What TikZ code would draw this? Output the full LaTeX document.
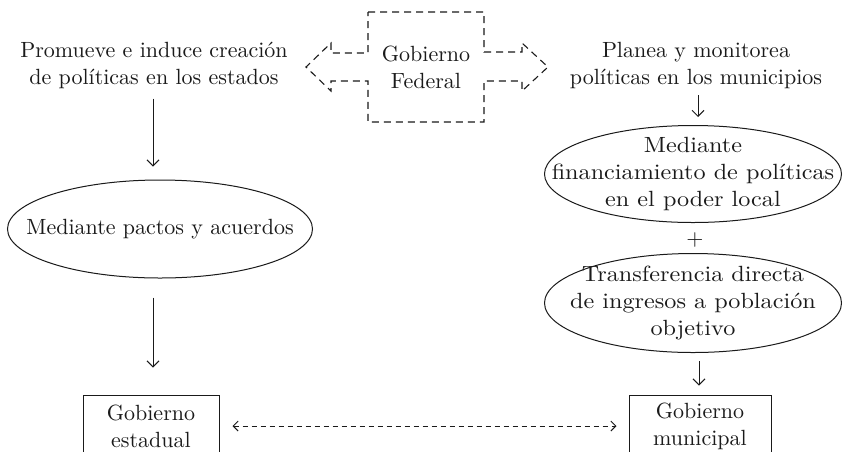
\documentclass[tikz,border=0pt]{standalone}
\usepackage{fontspec}
\newfontfamily\mainf{lmroman10-regular.otf}
\newfontfamily\ovalf[FakeStretch=1.1]{lmroman10-regular.otf}
\usetikzlibrary{shapes.geometric,arrows.meta}
\definecolor{ink}{HTML}{1A1A1A}
\begin{document}
\begin{tikzpicture}[x=1pt,y=-1pt,
  txt/.style={align=center, font=\mainf\fontsize{22}{27}\selectfont, text=ink, inner sep=0pt},
  otxt/.style={align=center, font=\ovalf\fontsize{22}{27}\selectfont, text=ink, inner sep=0pt},
  oval/.style={ellipse, draw=ink, line width=1pt, inner sep=0pt},
  govbox/.style={txt, draw=ink, line width=1pt, minimum height=62pt},
  arr/.style={draw=ink, line width=1pt, -{Straight Barb[length=6pt,width=12pt]}},
  dasharr/.style={draw=ink, line width=0.9pt, dash pattern=on 5pt off 4pt,
    {Straight Barb[length=5pt,width=10pt]}-{Straight Barb[length=5pt,width=10pt]}},
  fedline/.style={draw=ink, line width=1.1pt, dash pattern=on 7pt off 5pt}
]
\useasboundingbox (0,0) rectangle (843,451);
\fill[white] (0,0) rectangle (843,451);

% Federal cross shape
\draw[fedline] (368,12) -- (484,12) -- (484,52) -- (522,52) -- (522,43) -- (548,67)
  -- (522,91) -- (522,81) -- (484,81) -- (484,122) -- (368,122) -- (368,81)
  -- (331,81) -- (331,91) -- (306,67) -- (331,43) -- (331,53) -- (368,53) -- cycle;
\node[txt] (fed) at (426,67) {Gobierno\\Federal};

\node[txt] (ptext) at (154,65) {Promueve e induce creación\\de políticas en los estados};
\node[txt] (rtext) at (696,65) {Planea y monitorea\\políticas en los municipios};

\node[oval, minimum width=305pt, minimum height=98pt] (pactos) at (160,229) {};
\node[txt] (pactost) at (pactos) {Mediante pactos y acuerdos};
\node[oval, minimum width=297pt, minimum height=97pt] (finan) at (693,174) {};
\node[otxt] (finant) at (finan) {Mediante\\financiamiento de políticas\\en el poder local};
\node[txt] (plus) at (695,240) {+};
\node[oval, minimum width=297pt, minimum height=99pt] (trans) at (693,303) {};
\node[otxt] (transt) at (trans) {Transferencia directa\\de ingresos a población\\objetivo};

\node[govbox, minimum width=136pt] (est) at (151,426) {Gobierno\\estadual};
\node[govbox, minimum width=142pt] (mun) at (700,426) {Gobierno\\municipal};

\draw[arr, shorten <=10pt, shorten >=13pt] ([xshift=-1pt]ptext.south) -- ([xshift=-7pt]pactos.north);
\draw[arr, shorten <=19pt, shorten >=27pt] ([xshift=-7pt]pactos.south) -- ([xshift=2pt]est.north);
\draw[arr, shorten <=7pt, shorten >=8pt] ([xshift=2pt]rtext.south) -- ([xshift=5pt]finan.north);
\draw[arr, shorten <=8pt, shorten >=9pt] ([xshift=6pt]trans.south) -- ([xshift=-1pt]mun.north);
\draw[dasharr, shorten <=13pt, shorten >=12pt] (est.east) -- (mun.west);
\end{tikzpicture}
\end{document}
